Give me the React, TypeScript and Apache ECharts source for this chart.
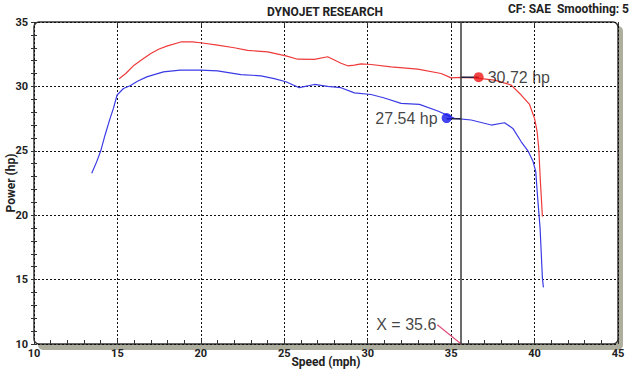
import React, { useEffect, useRef } from "react";
import * as echarts from "echarts";

// Red run (upper curve)
const redSpeed = [15.1, 15.5, 16.0, 16.5, 17.0, 17.5, 18.0, 18.8, 19.5, 20.1, 21.0, 22.0, 22.8, 24.0, 25.1, 25.8, 26.8, 27.6, 28.4, 28.8, 29.2, 29.6, 30.2, 31.4, 33.0, 34.4, 35.0, 35.6, 36.4, 37.6, 38.6, 39.2, 39.7, 40.0, 40.15, 40.25, 40.35, 40.47];
const redPower = [30.6, 31.0, 31.65, 32.1, 32.55, 32.9, 33.15, 33.45, 33.45, 33.37, 33.2, 33.0, 32.8, 32.68, 32.37, 32.11, 32.1, 32.3, 31.8, 31.6, 31.65, 31.75, 31.7, 31.52, 31.34, 31.0, 30.66, 30.7, 30.66, 30.49, 30.1, 29.33, 28.6, 27.5, 26.5, 25.2, 22.6, 19.9];

// Blue run (lower curve)
const blueSpeed = [13.46, 13.76, 14.0, 14.26, 14.56, 14.76, 14.98, 15.36, 15.76, 16.2, 16.76, 17.3, 17.76, 18.76, 20.0, 21.0, 22.4, 23.6, 24.4, 25.1, 25.9, 26.8, 27.6, 28.4, 29.2, 30.2, 31.0, 32.0, 33.1, 34.2, 35.2, 36.2, 37.4, 38.2, 38.7, 39.2, 39.6, 39.9, 40.07, 40.17, 40.33, 40.47, 40.53];
const bluePower = [23.26, 24.16, 25.0, 26.23, 27.52, 28.29, 29.33, 29.84, 30.05, 30.4, 30.74, 30.95, 31.13, 31.26, 31.26, 31.2, 30.92, 30.82, 30.6, 30.36, 29.9, 30.15, 30.0, 29.9, 29.5, 29.37, 29.1, 28.68, 28.6, 28.09, 27.52, 27.39, 27.0, 27.18, 26.74, 25.7, 25.0, 24.2, 23.4, 21.6, 19.0, 15.1, 14.4];

// Cursor and readouts
const cursorX = 35.6;
const redMarker = [36.65, 30.72];
const blueMarker = [34.73, 27.54];
const cursorLabelAnchor = [34.17, 11.5];

const xTicks = { min: 10, max: 45, interval: 5 };
const yTicks = { min: 10, max: 35, interval: 5 };

const FONT = "Roboto, 'Liberation Sans', sans-serif";
const RED = "#ee3a3a";
const BLUE = "#3b3be6";

const zip = (a: number[], b: number[]) => a.map((v, i) => [v, b[i]]);

export default function App() {
  const ref = useRef<HTMLDivElement>(null);
  useEffect(() => {
    document.body.style.margin = "0";
    const chart = echarts.init(ref.current!, null, { renderer: "svg" });
    const gl = 34, gt = 22, gw = 584, gh = 322;
    chart.setOption({
      animation: false,
      backgroundColor: "#ffffff",
      title: [
        {
          text: "DYNOJET RESEARCH",
          left: 262,
          top: 1,
          textStyle: { fontFamily: FONT, fontWeight: "bold", fontSize: 12, color: "#222" },
        },
        {
          text: "CF: SAE  Smoothing: 5",
          right: 6,
          top: -2,
          textStyle: { fontFamily: FONT, fontWeight: "bold", fontSize: 12, color: "#222" },
        },
      ],
      graphic: [
        {
          type: "rect",
          z: -10,
          shape: { x: gl + 4, y: gt + 4, width: gw + 1, height: gh + 2, r: 5 },
          style: { fill: "#aeae9f" },
          silent: true,
        },
        {
          type: "rect",
          z: -5,
          shape: { x: gl, y: gt, width: gw, height: gh, r: 5 },
          style: { fill: "#ffffff", stroke: "#333", lineWidth: 1.5 },
          silent: true,
        },
      ],
      grid: { left: gl, top: gt, width: gw, height: gh, containLabel: false, outerBoundsMode: "none" },
      xAxis: [
        {
          type: "value",
          min: xTicks.min,
          max: xTicks.max,
          interval: xTicks.interval,
          name: "Speed (mph)",
          nameLocation: "middle",
          nameGap: 12,
          nameMoveOverlap: false,
          nameTextStyle: { fontFamily: FONT, fontWeight: "bold", fontSize: 12, color: "#222" },
          axisLine: { show: false },
          axisTick: { show: true, inside: true, length: 5, lineStyle: { color: "#333" } },
          minorTick: { show: true, splitNumber: 5, length: 4, lineStyle: { color: "#333" } },
          splitLine: { show: true, lineStyle: { color: "#111", type: [2, 2], width: 1 } },
          axisLabel: { fontFamily: FONT, fontWeight: "bold", fontSize: 11, color: "#222", margin: 4 },
        },
        {
          type: "value",
          position: "top",
          min: xTicks.min,
          max: xTicks.max,
          interval: xTicks.interval,
          axisLine: { show: false },
          axisTick: { show: true, inside: true, length: 4, lineStyle: { color: "#333" } },
          splitLine: { show: false },
          axisLabel: { show: false },
        },
      ],
      yAxis: [
        {
          type: "value",
          min: yTicks.min,
          max: yTicks.max,
          interval: yTicks.interval,
          name: "Power (hp)",
          nameLocation: "middle",
          nameGap: 17,
          nameMoveOverlap: false,
          nameTextStyle: { fontFamily: FONT, fontWeight: "bold", fontSize: 12, color: "#222" },
          axisLine: { show: false },
          axisTick: { show: true, inside: true, length: 3, lineStyle: { color: "#333" } },
          minorTick: { show: true, splitNumber: 5, length: 3, lineStyle: { color: "#333" } },
          splitLine: { show: true, lineStyle: { color: "#111", type: [2, 2], width: 1 } },
          axisLabel: { fontFamily: FONT, fontWeight: "bold", fontSize: 11, color: "#222", margin: 6 },
        },
        {
          type: "value",
          position: "left",
          min: yTicks.min,
          max: yTicks.max,
          interval: yTicks.interval,
          axisLine: { show: false },
          axisTick: { show: true, inside: false, length: 3, lineStyle: { color: "#333" } },
          minorTick: { show: true, splitNumber: 5, length: 3, lineStyle: { color: "#333" } },
          splitLine: { show: false },
          axisLabel: { show: false },
        },
      ],
      series: [
        {
          type: "line",
          data: zip(redSpeed, redPower),
          symbol: "none",
          lineStyle: { color: RED, width: 1.2 },
          z: 3,
          markLine: {
            silent: true,
            symbol: "none",
            label: { show: false },
            lineStyle: { color: "#3a3a3a", width: 1.5, type: "solid" },
            data: [{ xAxis: cursorX }],
          },
        },
        {
          type: "line",
          data: zip(blueSpeed, bluePower),
          symbol: "none",
          lineStyle: { color: BLUE, width: 1.2 },
          z: 3,
        },
        {
          type: "line",
          data: [[cursorX, redMarker[1]], [redMarker[0], redMarker[1]]],
          symbol: "none",
          lineStyle: { color: "#222244", width: 1.5 },
          z: 4,
        },
        {
          type: "line",
          data: [[blueMarker[0], blueMarker[1] - 0.05], [cursorX, blueMarker[1] - 0.05]],
          symbol: "none",
          lineStyle: { color: "#222244", width: 1.5 },
          z: 4,
        },
        {
          type: "scatter",
          data: [redMarker],
          symbol: "circle",
          symbolSize: 10,
          itemStyle: { color: "#ee1515" },
          z: 5,
          label: {
            show: true,
            position: "right",
            distance: 4,
            formatter: (p: any) => `${p.value[1].toFixed(2)} hp`,
            fontFamily: "'Liberation Sans', Arial, sans-serif",
            fontSize: 16,
            color: "#111",
          },
        },
        {
          type: "scatter",
          data: [blueMarker],
          symbol: "circle",
          symbolSize: 10,
          itemStyle: { color: "#1515ee" },
          z: 5,
          label: {
            show: true,
            position: "left",
            distance: 4,
            formatter: (p: any) => `${p.value[1].toFixed(2)} hp`,
            fontFamily: "'Liberation Sans', Arial, sans-serif",
            fontSize: 16,
            color: "#111",
          },
        },
        {
          type: "line",
          data: [cursorLabelAnchor, [cursorX, yTicks.min]],
          symbol: "none",
          lineStyle: { color: "#e0507a", width: 1.2 },
          z: 4,
        },
        {
          type: "scatter",
          data: [cursorLabelAnchor],
          symbolSize: 0,
          z: 5,
          label: {
            show: true,
            position: "left",
            distance: 1,
            formatter: () => `X = ${cursorX.toFixed(1)}`,
            fontFamily: "'Liberation Sans', Arial, sans-serif",
            fontSize: 16,
            color: "#111",
          },
        },
      ],
    });
    return () => chart.dispose();
  }, []);
  return (
    <div
      ref={ref}
      style={{ position: "absolute", left: 0, top: 0, width: 640, height: 371 }}
    />
  );
}
